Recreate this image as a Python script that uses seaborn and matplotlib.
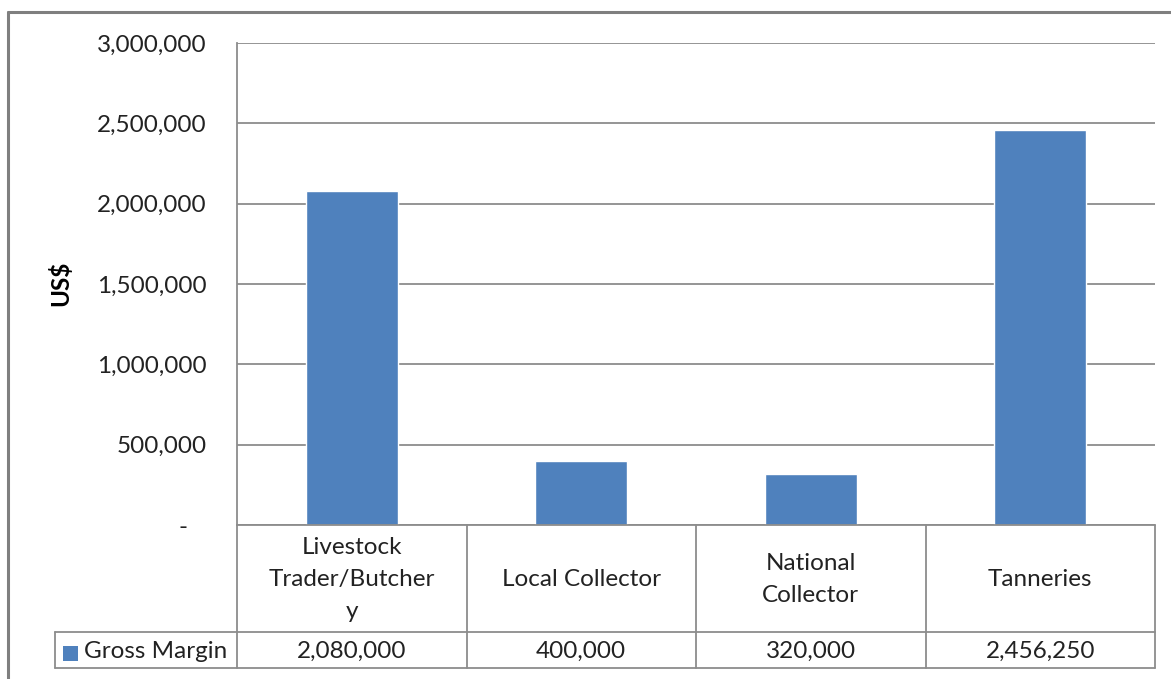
import matplotlib
matplotlib.use("Agg")
import matplotlib.pyplot as plt
import matplotlib.transforms as mtransforms
from matplotlib.lines import Line2D
from matplotlib.patches import Rectangle
import seaborn as sns
import pandas as pd

categories = ["Livestock\nTrader/Butcher\ny", "Local Collector", "National\nCollector", "Tanneries"]
gross_margin = [2080000, 400000, 320000, 2456250]
series_name = "Gross Margin"
y_ticks = [0, 500000, 1000000, 1500000, 2000000, 2500000, 3000000]
y_label = "US$"

BAR = "#4F81BD"
GRID = "#8C8C8C"
TEXT = "#222222"
FS = 17.5

sns.set_theme(style="white")
plt.rcParams["font.family"] = ["Lato", "DejaVu Sans"]

W, H = 1171, 679
fig = plt.figure(figsize=(W / 100, H / 100), dpi=100)
fig.patch.set_facecolor("white")

def fx(px):
    return px / W

def fy(py):
    return 1 - py / H

L, R, T, B = 237, 1155, 43, 525
ax = fig.add_axes([fx(L), fy(B), fx(R) - fx(L), fy(T) - fy(B)])

df = pd.DataFrame({"cat": categories, "val": gross_margin})
sns.barplot(data=df, x="cat", y="val", color=BAR, saturation=1, width=0.4, ax=ax)

ax.set_ylim(0, 3000000)
ax.set_xlim(-0.5, len(categories) - 0.5)
ax.set_yticks(y_ticks)
ax.set_yticklabels(["-   " if v == 0 else f"{v:,.0f}" for v in y_ticks], fontsize=FS, color=TEXT)
ax.tick_params(axis="y", length=0, pad=22)
ax.set_xticks([])
ax.set_xlabel("")
ax.set_ylabel("")
ax.yaxis.grid(True, color=GRID, linewidth=1.3)
ax.set_axisbelow(True)
for s in ["top", "right", "bottom"]:
    ax.spines[s].set_visible(False)
ax.spines["left"].set_color(GRID)
ax.spines["left"].set_linewidth(1.3)

fig.text(fx(60), fy(283), y_label, rotation=90, ha="center", va="center",
         fontsize=FS, fontweight="bold", color="black")

# outer chart border
fig.add_artist(Line2D([fx(8), fx(8)], [fy(12), fy(679)], transform=fig.transFigure,
                      color="#7F7F7F", linewidth=2.2))
fig.add_artist(Line2D([fx(8), fx(1171)], [fy(12), fy(12)], transform=fig.transFigure,
                      color="#7F7F7F", linewidth=2.2))

# data table
row1_top, row1_bot, row2_bot, leg_left = 525, 632, 668, 55
def hline(x0, x1, y):
    fig.add_artist(Line2D([fx(x0), fx(x1)], [fy(y), fy(y)], transform=fig.transFigure,
                          color=GRID, linewidth=1.3))
def vline(x, y0, y1):
    fig.add_artist(Line2D([fx(x), fx(x)], [fy(y0), fy(y1)], transform=fig.transFigure,
                          color=GRID, linewidth=1.3))

hline(L, R, row1_top)
hline(leg_left, R, row1_bot)
hline(leg_left, R, row2_bot)
vline(leg_left, row1_bot, row2_bot)
vline(L, row1_top, row2_bot)
col_w = (R - L) / len(categories)
for i in range(1, len(categories) + 1):
    vline(L + col_w * i, row1_top, row2_bot)

trans = mtransforms.blended_transform_factory(ax.transData, fig.transFigure)
for i, (c, v) in enumerate(zip(categories, gross_margin)):
    ax.text(i, fy((row1_top + row1_bot) / 2 + 1), c, transform=trans, ha="center", va="center",
            fontsize=FS, color=TEXT, linespacing=1.66, clip_on=False)
    ax.text(i, fy((row1_bot + row2_bot) / 2 + 1), f"{v:,.0f}", transform=trans, ha="center",
            va="center", fontsize=FS, color=TEXT, clip_on=False)

fig.add_artist(Rectangle((fx(63), fy(661)), fx(15), fy(646) - fy(661), transform=fig.transFigure,
                         facecolor=BAR, edgecolor="none"))
fig.text(fx(84), fy((row1_bot + row2_bot) / 2 + 1), series_name, ha="left", va="center",
         fontsize=FS, color=TEXT)

fig.savefig("out.png", dpi=100, facecolor="white")
